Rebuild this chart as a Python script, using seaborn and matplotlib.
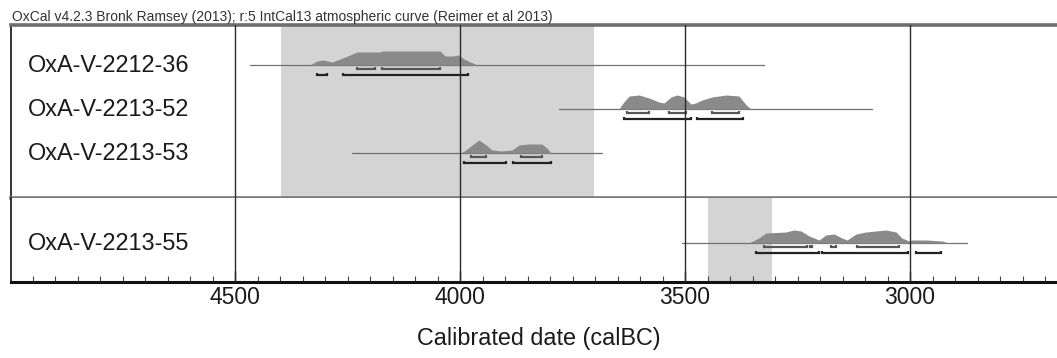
import numpy as np
import pandas as pd
import seaborn as sns
import matplotlib.pyplot as plt
from matplotlib.ticker import MultipleLocator

sns.set_theme(style="white")
plt.rcParams['font.family'] = ['Liberation Sans', 'DejaVu Sans']

# sample names, grouped in two phases
phase1_names = ["OxA-V-2212-36", "OxA-V-2213-52", "OxA-V-2213-53"]
phase2_names = ["OxA-V-2213-55"]

# span of the thin line under each distribution (cal BC)
line_start = [4467, 3780, 4240, 3507]
line_end = [3324, 3084, 3684, 2873]

# calibrated distributions: year (cal BC), relative height
dist_years = [
    [4333, 4318, 4304, 4284, 4267, 4244, 4229, 4178, 4173, 4044, 4033, 4016, 4004, 3991, 3962],
    [3647, 3636, 3624, 3602, 3580, 3558, 3547, 3531, 3518, 3502, 3487, 3476, 3462, 3440, 3409, 3380, 3364, 3353],
    [3998, 3987, 3973, 3958, 3942, 3929, 3907, 3884, 3869, 3847, 3818, 3807, 3798],
    [3358, 3336, 3320, 3276, 3258, 3242, 3224, 3202, 3187, 3169, 3151, 3140, 3120, 3098, 3076, 3053, 3031,
     3018, 3002, 2996, 2964, 2929, 2913],
]
dist_heights = [
    [0, 4, 5, 3, 6, 10, 13, 13, 14, 14, 9, 9, 10, 6, 0],
    [0, 7, 13, 14, 11, 7, 6, 12, 14, 12, 5, 6, 9, 12, 14, 13, 4, 0],
    [0, 3, 8, 13, 8, 3, 2, 3, 8, 9, 9, 5, 0],
    [0, 5, 10, 11, 13, 12, 7, 3, 8, 9, 5, 3, 9, 11, 12, 13, 11, 5, 2, 3, 3, 2, 0],
]

# 68.2% and 95.4% ranges
ranges_68 = [
    [(4229, 4189), (4173, 4044)],
    [(3629, 3580), (3536, 3498), (3440, 3380)],
    [(3976, 3942), (3864, 3818)],
    [(3324, 3229), (3222, 3218), (3176, 3164), (3118, 3024)],
]
ranges_95 = [
    [(4318, 4296), (4260, 3982)],
    [(3636, 3487), (3473, 3371)],
    [(3991, 3898), (3882, 3798)],
    [(3342, 3202), (3196, 3004), (2987, 2931)],
]

# shaded phase spans
phase1_span = (4398, 3702)
phase2_span = (3449, 3307)

grid_years = [4500, 4000, 3500, 3000]
title = "OxCal v4.2.3 Bronk Ramsey (2013); r:5 IntCal13 atmospheric curve (Reimer et al 2013)"

W, H = 1057, 358
PX = 44.0  # pixels per row unit
fig = plt.figure(figsize=(W / 100, H / 100), dpi=100)
left, right = 11, 1065
ax1 = fig.add_axes([left / W, 1 - 198 / H, (right - left) / W, (198 - 25) / H])
ax2 = fig.add_axes([left / W, 1 - 282 / H, (right - left) / W, (282 - 198) / H])

xlim = (4500 + (235 - left) / 0.45, 3000 - (right - 910) / 0.45)
ax1.set_ylim(-(198 - 65) / PX, (65 - 25) / PX)
ax2.set_ylim(-(282 - 243) / PX, (243 - 198) / PX)

rows = [(ax1, 0, 0), (ax1, 1, -1), (ax1, 2, -2), (ax2, 3, 0)]
labels = phase1_names + phase2_names

ax1.axvspan(*phase1_span, color="#d4d4d4", lw=0, zorder=0)
ax2.axvspan(*phase2_span, color="#d4d4d4", lw=0, zorder=0)


def bracket(ax, a, b, y, color):
    t = 2.5 / PX
    ax.plot([a, a, b, b], [y + t, y, y, y + t], color=color, lw=1.6, zorder=4,
            solid_capstyle="butt", solid_joinstyle="miter")


for ax, i, y in rows:
    seg = pd.DataFrame({"x": [line_start[i], line_end[i]], "y": [y, y]})
    sns.lineplot(data=seg, x="x", y="y", ax=ax, color="#707070", lw=0.9, zorder=2)
    xs = np.array(dist_years[i])
    hs = np.array(dist_heights[i]) / PX
    ax.fill_between(xs, y, y + hs, color="#8a8a8a", lw=0, zorder=3)
    for a, b in ranges_68[i]:
        bracket(ax, a, b, y - 4 / PX, "#555555")
    for a, b in ranges_95[i]:
        bracket(ax, a, b, y - 10 / PX, "#222222")
    ax.text((28 - left) / (right - left), y, labels[i], transform=ax.get_yaxis_transform(),
            va="center", ha="left", fontsize=16.9, color="#1a1a1a")

for ax in (ax1, ax2):
    ax.set_xlim(*xlim)
    ax.set_xlabel("")
    ax.set_ylabel("")
    ax.set_yticks([])
    for g in grid_years:
        ax.axvline(g, color="#2a2a2a", lw=1.0, zorder=5)
    ax.spines["left"].set_color("#222222")
    ax.spines["left"].set_linewidth(1.3)
    ax.spines["right"].set_visible(False)

ax1.set_xticks([])
ax1.spines["top"].set_color("#6e6e6e")
ax1.spines["top"].set_linewidth(2.6)
ax1.spines["bottom"].set_color("#7a7a7a")
ax1.spines["bottom"].set_linewidth(2.6)
ax2.spines["top"].set_visible(False)
ax2.spines["bottom"].set_color("#111111")
ax2.spines["bottom"].set_linewidth(2.2)

ax2.xaxis.set_major_locator(MultipleLocator(500))
ax2.xaxis.set_minor_locator(MultipleLocator(50))
ax2.tick_params(axis="x", which="major", direction="in", length=8, width=1, color="#222222",
                bottom=True, pad=3, labelsize=16.5, labelcolor="#1a1a1a")
ax2.tick_params(axis="x", which="minor", direction="in", length=4, width=0.8, color="#444444",
                bottom=True)

fig.text(12 / W, 1 - 17 / H, title, fontsize=10, va="center", ha="left", color="#333333")
fig.text(539 / W, 1 - 339 / H, "Calibrated date (calBC)", fontsize=16.8, va="center", ha="center",
         color="#1a1a1a")

fig.savefig("out.png", dpi=100)
